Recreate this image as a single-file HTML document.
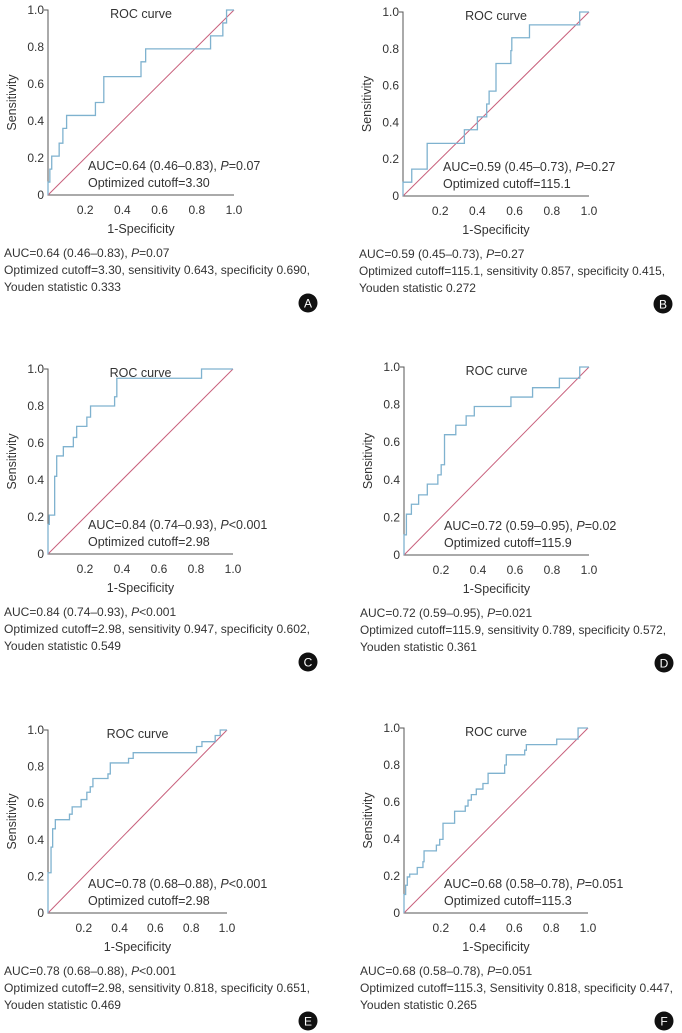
<!DOCTYPE html>
<html><head><meta charset="utf-8"><style>
html,body{margin:0;padding:0;background:#fff}
svg{display:block}
text{font-family:"Liberation Sans",sans-serif;fill:#333}
</style></head><body>
<svg id="fig" width="682" height="1033" viewBox="0 0 682 1033" xmlns="http://www.w3.org/2000/svg"></svg>
<script>
// Panel data (step points: at fpr value, sensitivity jumps to tpr value)
const panelLabels = ["A","B","C","D","E","F"];
const fprA = [0,0.01,0.02,0.06,0.08,0.10,0.255,0.30,0.30,0.50,0.525,0.874,0.94,0.96,1];
const tprA = [0.07,0.14,0.21,0.28,0.36,0.43,0.5,0.57,0.64,0.72,0.79,0.86,0.93,1,1];
const fprB = [0,0.047,0.13,0.33,0.40,0.45,0.463,0.50,0.58,0.585,0.68,0.95,1];
const tprB = [0.075,0.146,0.286,0.36,0.43,0.50,0.57,0.72,0.79,0.86,0.93,1,1];
const fprC = [0,0.007,0.036,0.047,0.083,0.137,0.155,0.21,0.23,0.36,0.372,0.83,1];
const tprC = [0.16,0.21,0.42,0.53,0.58,0.63,0.69,0.74,0.80,0.85,0.95,1,1];
const fprD = [0,0.013,0.04,0.079,0.126,0.183,0.201,0.219,0.28,0.336,0.38,0.578,0.695,0.84,0.95,1];
const tprD = [0.107,0.217,0.27,0.32,0.377,0.426,0.48,0.64,0.69,0.74,0.79,0.84,0.89,0.94,1,1];
const fprE = [0,0.017,0.026,0.041,0.12,0.135,0.185,0.217,0.236,0.251,0.335,0.348,0.45,0.476,0.83,0.86,0.934,0.962,1];
const tprE = [0.22,0.36,0.46,0.51,0.54,0.58,0.62,0.66,0.69,0.735,0.76,0.82,0.845,0.876,0.91,0.936,0.97,1,1];
const fprF = [0,0.009,0.018,0.031,0.072,0.103,0.109,0.176,0.194,0.212,0.275,0.333,0.348,0.366,0.393,0.429,0.457,0.547,0.556,0.656,0.665,0.83,0.946,1];
const tprF = [0.10,0.15,0.195,0.21,0.246,0.277,0.336,0.367,0.398,0.485,0.55,0.578,0.61,0.64,0.67,0.70,0.755,0.80,0.855,0.88,0.91,0.94,1,1];
const xTicks = ["0.2","0.4","0.6","0.8","1.0"];
const yTicks = ["0","0.2","0.4","0.6","0.8","1.0"];
const aucLines = ["AUC=0.64 (0.46\u20130.83), |P|=0.07","AUC=0.59 (0.45\u20130.73), |P|=0.27","AUC=0.84 (0.74\u20130.93), |P|<0.001","AUC=0.72 (0.59\u20130.95), |P|=0.02","AUC=0.78 (0.68\u20130.88), |P|<0.001","AUC=0.68 (0.58\u20130.78), |P|=0.051"];
const cutoffs = ["3.30","115.1","2.98","115.9","2.98","115.3"];
const cap1 = ["AUC=0.64 (0.46\u20130.83), |P|=0.07","AUC=0.59 (0.45\u20130.73), |P|=0.27","AUC=0.84 (0.74\u20130.93), |P|<0.001","AUC=0.72 (0.59\u20130.95), |P|=0.021","AUC=0.78 (0.68\u20130.88), |P|<0.001","AUC=0.68 (0.58\u20130.78), |P|=0.051"];
const cap2 = ["Optimized cutoff=3.30, sensitivity 0.643, specificity 0.690,","Optimized cutoff=115.1, sensitivity 0.857, specificity 0.415,","Optimized cutoff=2.98, sensitivity 0.947, specificity 0.602,","Optimized cutoff=115.9, sensitivity 0.789, specificity 0.572,","Optimized cutoff=2.98, sensitivity 0.818, specificity 0.651,","Optimized cutoff=115.3, Sensitivity 0.818, specificity 0.447,"];
const cap3 = ["Youden statistic 0.333","Youden statistic 0.272","Youden statistic 0.549","Youden statistic 0.361","Youden statistic 0.469","Youden statistic 0.265"];
const FPR=[fprA,fprB,fprC,fprD,fprE,fprF], TPR=[tprA,tprB,tprC,tprD,tprE,tprF];
// layout (not data)
const geo=[[48,195,186,185],[403,196,186,184],[48,554,185,185],[404,555,185,188],[48,913,179,183],[404,913,184,185]];
const NS="http://www.w3.org/2000/svg";
const svg=document.getElementById('fig');
function mk(tag,attrs,parent){const e=document.createElementNS(NS,tag);for(const k in attrs)e.setAttribute(k,attrs[k]);(parent||svg).appendChild(e);return e;}
function richText(g,str,x,y,size,anchor){
  const t=mk('text',{x:x,y:y,'font-size':size,'text-anchor':anchor||'start'},g);
  str.split('|').forEach((s,i)=>{const sp=mk('tspan',{},t);if(i%2===1)sp.setAttribute('font-style','italic');sp.textContent=s;});
  return t;
}
for(let p=0;p<6;p++){
  const [ox,oy,w,h]=geo[p];
  const sx=v=>ox+v*w, sy=v=>oy-v*h;
  const g=mk('g',{});
  
  
  const ax=mk('path',{d:`M${ox-4} ${sy(1)} H${ox} V${oy} H${sx(1)}`,fill:'none',stroke:'#555','stroke-width':1},g);
  
  
  yTicks.forEach((t,i)=>{const e=mk('text',{x:ox-4,y:sy(i*0.2)+4,'font-size':12,'text-anchor':'end'},g);e.textContent=t;
    
    });
  xTicks.forEach((t,i)=>{const e=mk('text',{x:sx((i+1)*0.2),y:oy+19,'font-size':12,'text-anchor':'middle'},g);e.textContent=t;
    
    });
  const xt=mk('text',{x:ox+w/2,y:oy+38,'font-size':12.5,'text-anchor':'middle'},g);xt.textContent='1-Specificity';
  
  
  const cy=oy-h/2;
  const yt=mk('text',{x:ox-32,y:cy,'font-size':12.5,'text-anchor':'middle',transform:`rotate(-90 ${ox-32} ${cy})`},g);yt.textContent='Sensitivity';
  
  
  const tt=mk('text',{x:ox+w/2,y:sy(1)+8,'font-size':12.5,'text-anchor':'middle'},g);tt.textContent='ROC curve';
  
  
  const dg=mk('line',{x1:sx(0),y1:sy(0),x2:sx(1),y2:sy(1),stroke:'#c8607c','stroke-width':1},g);
  
  
  let d=`M${sx(0)} ${sy(0)}`;let py=0;
  FPR[p].forEach((f,i)=>{d+=` L${sx(f)} ${sy(py)} L${sx(f)} ${sy(TPR[p][i])}`;py=TPR[p][i];});
  const c=mk('path',{d:d,fill:'none',stroke:'#7fb2cf','stroke-width':1.3},g);
  
  
  const a1=richText(g,aucLines[p],ox+40,oy-25,12.5);
  
  
  const a2=mk('text',{x:ox+40,y:oy-8,'font-size':12.5},g);a2.textContent='Optimized cutoff='+cutoffs[p];
  
  
  const c1=richText(g,cap1[p],ox-44,oy+62,12);
  
  
  const c2=mk('text',{x:ox-44,y:oy+79,'font-size':12,textLength:p===5?313:306,lengthAdjust:'spacingAndGlyphs'},g);c2.textContent=cap2[p];
  
  
  const c3=mk('text',{x:ox-44,y:oy+96,'font-size':12},g);c3.textContent=cap3[p];
  
  
  const bc=mk('circle',{cx:ox+260,cy:oy+108,r:9.5,fill:'#111'},g);
  
  
  const bt=mk('text',{x:ox+260,y:oy+112.5,'font-size':12,'text-anchor':'middle',style:'fill:#fff'},g);bt.textContent=panelLabels[p];
  
  
}
</script>
</body></html>
